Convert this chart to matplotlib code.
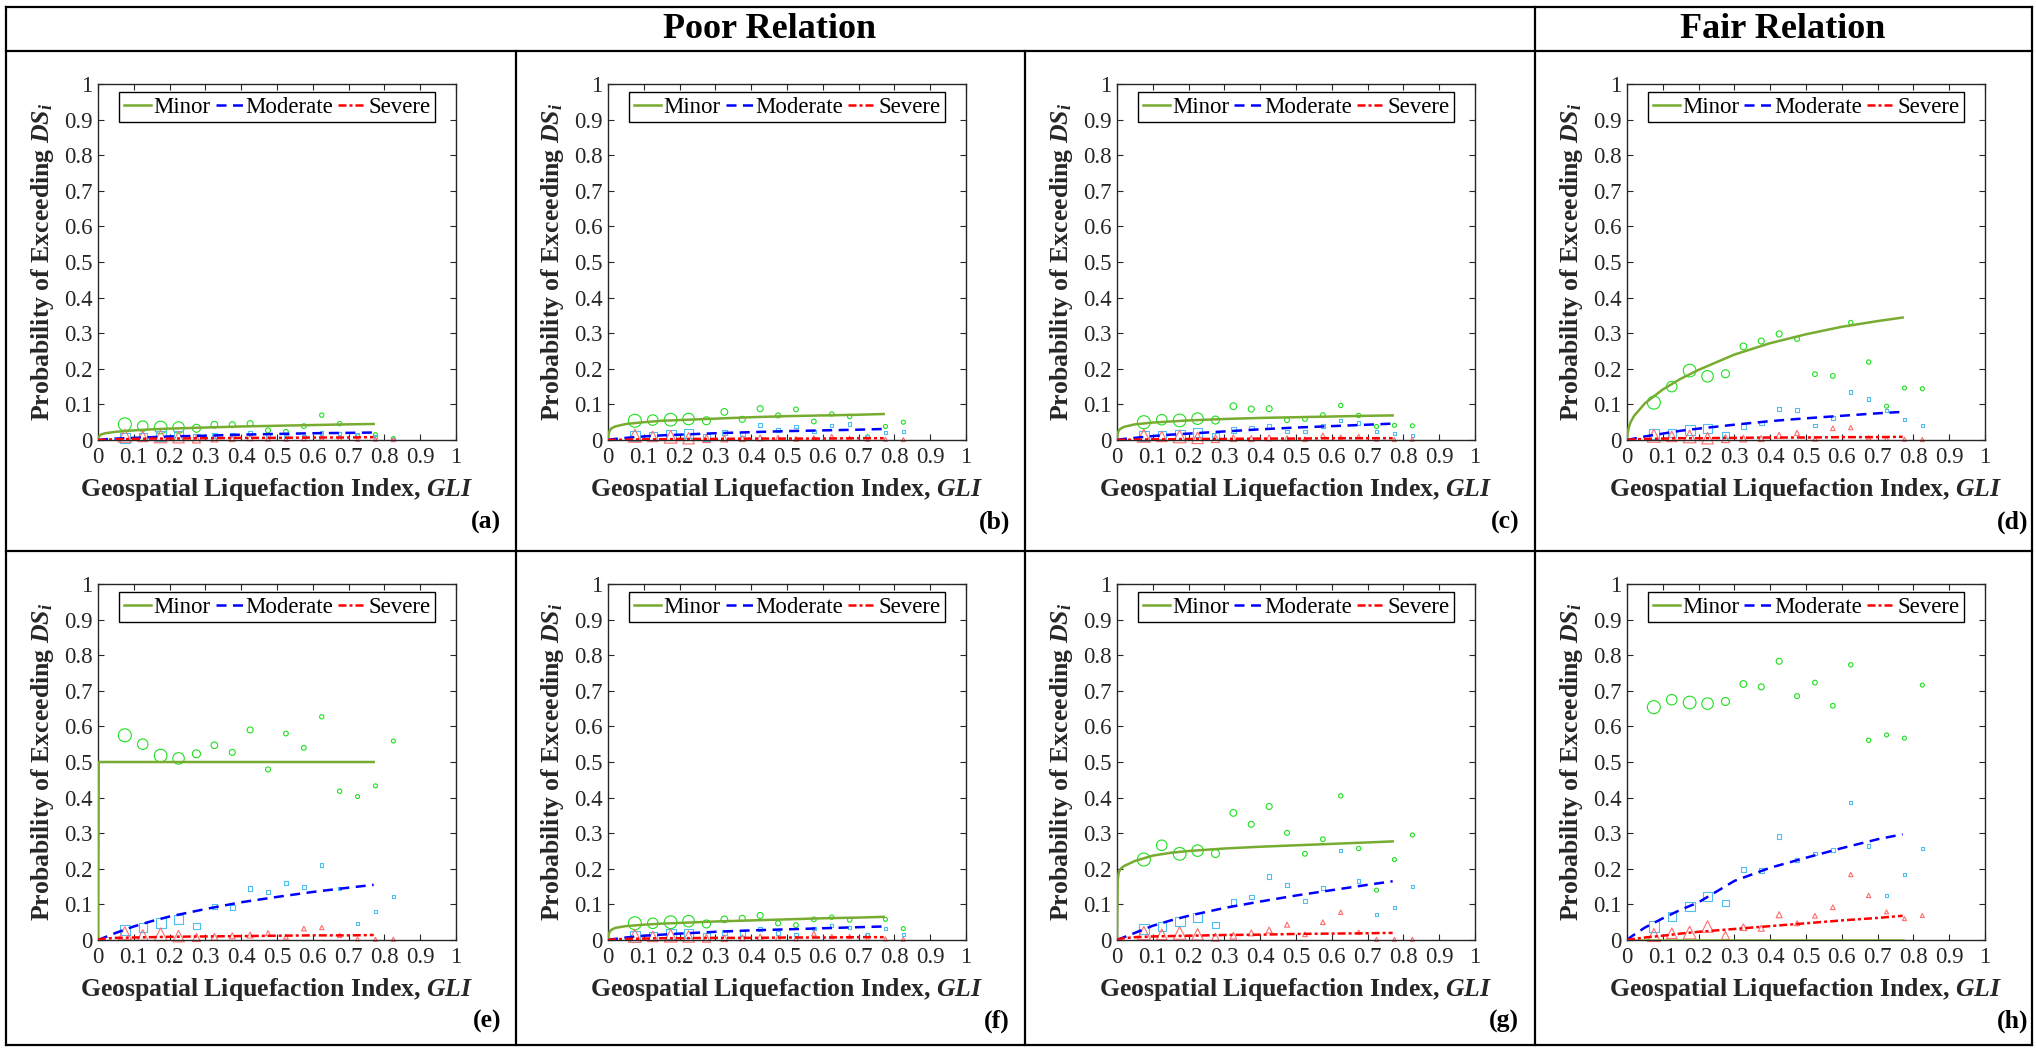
import matplotlib
matplotlib.use("Agg")
import matplotlib.pyplot as plt
from matplotlib.lines import Line2D

plt.rcParams.update({
    "font.family": ["Liberation Serif", "DejaVu Serif"],
    "mathtext.fontset": "custom",
    "mathtext.rm": "Liberation Serif:bold",
    "mathtext.it": "Liberation Serif:italic:bold",
    "mathtext.bf": "Liberation Serif:bold",
})

# ---------------- data ----------------
panel_letters = ["(a)", "(b)", "(c)", "(d)", "(e)", "(f)", "(g)", "(h)"]
group_titles = ["Poor Relation", "Fair Relation"]
legend_labels = ["Minor", "Moderate", "Severe"]
tick_values = [0, 0.1, 0.2, 0.3, 0.4, 0.5, 0.6, 0.7, 0.8, 0.9, 1]
tick_labels = ["0", "0.1", "0.2", "0.3", "0.4", "0.5", "0.6", "0.7", "0.8", "0.9", "1"]

gli_bins = [0.075, 0.125, 0.175, 0.225, 0.275, 0.325, 0.375, 0.425,
            0.475, 0.525, 0.575, 0.625, 0.675, 0.725, 0.775, 0.825]
# relative number of observations per bin (drives marker size)
bin_weight = [13, 10.5, 12.7, 11.5, 8, 6.7, 6, 6, 5, 4.7, 4.7, 4.3, 4.3, 4, 4, 4]

minor_obs = [
    [0.044, 0.039, 0.035, 0.035, 0.033, 0.043, 0.043, 0.046, 0.027, 0.023, 0.039, 0.070, 0.046, 0.012, 0.015, 0.004],
    [0.054, 0.056, 0.057, 0.059, 0.054, 0.079, 0.058, 0.088, 0.069, 0.086, 0.052, 0.073, 0.066, 0.009, 0.038, 0.050],
    [0.050, 0.057, 0.055, 0.060, 0.056, 0.095, 0.087, 0.088, 0.056, 0.059, 0.070, 0.097, 0.069, 0.038, 0.041, 0.040],
    [0.105, 0.150, 0.195, 0.179, 0.186, 0.263, 0.278, 0.298, 0.284, 0.185, 0.180, 0.330, 0.219, 0.095, 0.146, 0.144],
    [0.575, 0.550, 0.518, 0.510, 0.523, 0.547, 0.527, 0.590, 0.479, 0.580, 0.540, 0.627, 0.418, 0.403, 0.433, 0.559],
    [0.047, 0.047, 0.050, 0.053, 0.045, 0.058, 0.061, 0.069, 0.047, 0.042, 0.058, 0.064, 0.056, 0.013, 0.058, 0.032],
    [0.226, 0.266, 0.242, 0.251, 0.243, 0.357, 0.325, 0.375, 0.301, 0.242, 0.283, 0.405, 0.257, 0.140, 0.226, 0.295],
    [0.654, 0.675, 0.667, 0.664, 0.670, 0.719, 0.711, 0.783, 0.685, 0.723, 0.658, 0.773, 0.561, 0.576, 0.567, 0.716],
]
moderate_obs = [
    [0.005, 0.008, 0.010, 0.012, 0.008, 0.012, 0.014, 0.020, 0.012, 0.010, 0.010, 0.020, 0.018, 0.015, 0.010, 0.002],
    [0.012, 0.012, 0.013, 0.017, 0.007, 0.022, 0.017, 0.042, 0.028, 0.038, 0.024, 0.040, 0.045, 0.010, 0.020, 0.024],
    [0.012, 0.013, 0.015, 0.020, 0.012, 0.028, 0.034, 0.038, 0.024, 0.024, 0.040, 0.054, 0.048, 0.023, 0.018, 0.012],
    [0.016, 0.019, 0.029, 0.033, 0.014, 0.038, 0.048, 0.087, 0.084, 0.041, 0.062, 0.135, 0.115, 0.084, 0.057, 0.041],
    [0.028, 0.035, 0.049, 0.057, 0.040, 0.094, 0.092, 0.144, 0.134, 0.161, 0.149, 0.211, 0.145, 0.046, 0.079, 0.122],
    [0.010, 0.012, 0.017, 0.019, 0.010, 0.020, 0.018, 0.031, 0.020, 0.015, 0.032, 0.040, 0.036, 0.014, 0.032, 0.015],
    [0.030, 0.038, 0.052, 0.063, 0.042, 0.107, 0.121, 0.179, 0.155, 0.110, 0.147, 0.252, 0.166, 0.071, 0.092, 0.150],
    [0.038, 0.066, 0.094, 0.121, 0.104, 0.197, 0.195, 0.291, 0.225, 0.243, 0.252, 0.387, 0.264, 0.126, 0.183, 0.258],
]
severe_obs = [
    [0.012, 0.010, 0.010, 0.008, 0.003, 0.004, 0.004, 0.006, 0.004, 0.003, 0.004, 0.006, 0.005, 0.002, 0.002, 0.001],
    [0.012, 0.010, 0.009, 0.005, 0.004, 0.004, 0.004, 0.006, 0.006, 0.003, 0.006, 0.010, 0.005, 0.002, 0.002, 0.001],
    [0.012, 0.010, 0.010, 0.006, 0.004, 0.005, 0.004, 0.006, 0.005, 0.002, 0.013, 0.008, 0.010, 0.002, 0.001, 0.002],
    [0.012, 0.010, 0.010, 0.005, 0.004, 0.004, 0.004, 0.013, 0.020, 0.003, 0.033, 0.035, 0.006, 0.004, 0.002, 0.001],
    [0.019, 0.014, 0.016, 0.011, 0.007, 0.009, 0.012, 0.014, 0.019, 0.009, 0.032, 0.035, 0.013, 0.003, 0.002, 0.002],
    [0.012, 0.010, 0.012, 0.010, 0.005, 0.005, 0.006, 0.008, 0.006, 0.004, 0.018, 0.010, 0.010, 0.004, 0.003, 0.002],
    [0.020, 0.016, 0.020, 0.016, 0.008, 0.012, 0.020, 0.028, 0.043, 0.016, 0.050, 0.078, 0.022, 0.002, 0.002, 0.002],
    [0.014, 0.019, 0.021, 0.038, 0.013, 0.036, 0.033, 0.071, 0.047, 0.068, 0.092, 0.184, 0.125, 0.079, 0.060, 0.069],
]

fit_x = [0, 0.002, 0.005, 0.01, 0.02, 0.05, 0.1, 0.15, 0.2, 0.3, 0.4, 0.5, 0.6, 0.7, 0.77]
minor_fit = [
    [0, 0.008, 0.013, 0.016, 0.019, 0.023, 0.027, 0.030, 0.032, 0.035, 0.038, 0.040, 0.042, 0.044, 0.045],
    [0, 0.018, 0.027, 0.033, 0.038, 0.045, 0.050, 0.054, 0.056, 0.060, 0.064, 0.067, 0.069, 0.071, 0.073],
    [0, 0.018, 0.027, 0.032, 0.037, 0.044, 0.049, 0.052, 0.055, 0.059, 0.062, 0.064, 0.066, 0.068, 0.069],
    [0, 0.020, 0.035, 0.050, 0.068, 0.103, 0.142, 0.172, 0.197, 0.240, 0.272, 0.297, 0.318, 0.334, 0.344],
    [0, 0.500, 0.500, 0.500, 0.500, 0.500, 0.500, 0.500, 0.500, 0.500, 0.500, 0.500, 0.500, 0.500, 0.500],
    [0, 0.016, 0.024, 0.029, 0.034, 0.039, 0.043, 0.046, 0.048, 0.052, 0.055, 0.058, 0.061, 0.063, 0.065],
    [0, 0.170, 0.190, 0.200, 0.208, 0.222, 0.237, 0.245, 0.250, 0.257, 0.262, 0.266, 0.270, 0.274, 0.277],
    [0, 0, 0, 0, 0, 0, 0, 0, 0, 0, 0, 0, 0, 0, 0],
]
moderate_fit = [
    [0, 0, 0.0003, 0.001, 0.002, 0.004, 0.006, 0.008, 0.010, 0.012, 0.015, 0.017, 0.019, 0.020, 0.021],
    [0, 0, 0.001, 0.002, 0.003, 0.006, 0.010, 0.013, 0.015, 0.019, 0.022, 0.025, 0.027, 0.029, 0.031],
    [0, 0, 0.001, 0.002, 0.003, 0.006, 0.011, 0.015, 0.018, 0.024, 0.030, 0.035, 0.039, 0.043, 0.046],
    [0, 0, 0.001, 0.002, 0.004, 0.010, 0.018, 0.026, 0.032, 0.043, 0.053, 0.061, 0.068, 0.075, 0.079],
    [0, 0.001, 0.002, 0.004, 0.008, 0.020, 0.038, 0.053, 0.066, 0.087, 0.106, 0.121, 0.135, 0.147, 0.155],
    [0, 0, 0.001, 0.002, 0.003, 0.007, 0.012, 0.015, 0.018, 0.023, 0.027, 0.030, 0.033, 0.036, 0.038],
    [0, 0.001, 0.002, 0.004, 0.008, 0.020, 0.040, 0.055, 0.068, 0.090, 0.108, 0.125, 0.140, 0.155, 0.165],
    [0, 0.002, 0.004, 0.008, 0.015, 0.035, 0.061, 0.085, 0.106, 0.166, 0.203, 0.231, 0.258, 0.283, 0.297],
]
severe_fit = [
    [0, 0, 0, 0.0005, 0.001, 0.002, 0.003, 0.004, 0.004, 0.005, 0.006, 0.006, 0.007, 0.007, 0.008],
    [0, 0, 0, 0.0003, 0.0005, 0.001, 0.002, 0.002, 0.003, 0.003, 0.004, 0.004, 0.004, 0.005, 0.005],
    [0, 0, 0, 0.0003, 0.0006, 0.001, 0.002, 0.002, 0.003, 0.003, 0.004, 0.004, 0.005, 0.005, 0.005],
    [0, 0, 0.0005, 0.001, 0.002, 0.003, 0.004, 0.005, 0.005, 0.006, 0.007, 0.007, 0.008, 0.008, 0.009],
    [0, 0.001, 0.002, 0.003, 0.004, 0.006, 0.007, 0.008, 0.009, 0.010, 0.011, 0.012, 0.013, 0.013, 0.014],
    [0, 0, 0.0005, 0.001, 0.002, 0.003, 0.004, 0.005, 0.005, 0.006, 0.006, 0.007, 0.007, 0.008, 0.008],
    [0, 0.001, 0.002, 0.004, 0.005, 0.008, 0.010, 0.011, 0.012, 0.014, 0.015, 0.017, 0.018, 0.019, 0.020],
    [0, 0, 0.001, 0.002, 0.003, 0.007, 0.012, 0.018, 0.023, 0.031, 0.039, 0.047, 0.055, 0.062, 0.068],
]

# ---------------- layout / style ----------------
W, H = 2036, 1048
DPI = 100
PX2PT = 72.0 / DPI

col_left = [98, 608, 1117, 1627]
row_top = [84, 584]
AW, AH = 358, 356
letter_x = [501, 1010, 1519, 2028]
letter_y = [522, 1021]

c_minor_line = "#77AC30"
c_mod_line = "#0000FF"
c_sev_line = "#FF0000"
c_minor_pt = "#1EE01E"
c_mod_pt = "#4DBEEE"
c_sev_pt = "#FF6E6E"
axis_col = "#262626"

fig = plt.figure(figsize=(W / DPI, H / DPI), dpi=DPI)
fig.patch.set_facecolor("white")


def fx(x):
    return x / W


def fy(y):
    return 1 - y / H


# frame / grid lines of the figure table
border_lw = 1.6
table_lines = [
    ((6, 2032), (7, 7)),
    ((6, 2032), (51, 51)),
    ((6, 2032), (551, 551)),
    ((6, 2032), (1045, 1045)),
    ((6, 6), (7, 1045)),
    ((2032, 2032), (7, 1045)),
    ((1535, 1535), (7, 1045)),
    ((516, 516), (51, 1045)),
    ((1025, 1025), (51, 1045)),
]
for xs, ys in table_lines:
    fig.add_artist(Line2D([fx(xs[0]), fx(xs[1])], [fy(ys[0]), fy(ys[1])],
                          transform=fig.transFigure, color="black", lw=border_lw))

fig.text(fx(770), fy(30), group_titles[0], ha="center", va="center",
         fontsize=26, fontweight="bold", color="black")
fig.text(fx(1783), fy(30), group_titles[1], ha="center", va="center",
         fontsize=26, fontweight="bold", color="black")

sizes_o = [(w * PX2PT) ** 2 for w in bin_weight]
sizes_s = [(0.78 * w * PX2PT) ** 2 for w in bin_weight]
sizes_t = [(1.0 * w * PX2PT) ** 2 for w in bin_weight]

for i in range(8):
    r, c = divmod(i, 4)
    ax = fig.add_axes([fx(col_left[c]), fy(row_top[r] + AH), AW / W, AH / H])

    ax.scatter(gli_bins, minor_obs[i], s=sizes_o, marker="o", facecolors="none",
               edgecolors=c_minor_pt, linewidths=0.8, clip_on=False, zorder=2)
    ax.scatter(gli_bins, moderate_obs[i], s=sizes_s, marker="s", facecolors="none",
               edgecolors=c_mod_pt, linewidths=0.8, clip_on=False, zorder=2)
    ax.scatter(gli_bins, severe_obs[i], s=sizes_t, marker="^", facecolors="none",
               edgecolors=c_sev_pt, linewidths=0.8, clip_on=False, zorder=2)

    l1, = ax.plot(fit_x, minor_fit[i], color=c_minor_line, lw=1.8, zorder=3)
    l2, = ax.plot(fit_x, moderate_fit[i], color=c_mod_line, lw=1.8,
                  dashes=(4.0, 2.6), zorder=3)
    l3, = ax.plot(fit_x, severe_fit[i], color=c_sev_line, lw=1.8,
                  dashes=(3.2, 1.2, 1.2, 1.2), zorder=3)

    ax.set_xlim(0, 1)
    ax.set_ylim(0, 1)
    ax.set_xticks(tick_values)
    ax.set_xticklabels(tick_labels)
    ax.set_yticks(tick_values)
    ax.set_yticklabels(tick_labels)
    ax.tick_params(direction="in", top=True, right=True, length=4, width=0.8,
                   labelsize=16.5, colors=axis_col, labelcolor=axis_col)
    ax.tick_params(axis="x", pad=5)
    ax.tick_params(axis="y", pad=4)
    for sp in ax.spines.values():
        sp.set_color(axis_col)
        sp.set_linewidth(1.0)

    ax.set_xlabel("Geospatial Liquefaction Index, $GLI$", fontsize=18.5,
                  fontweight="bold", color=axis_col)
    ax.set_ylabel("Probability of Exceeding $DS_i$", fontsize=18.5,
                  fontweight="bold", color=axis_col)
    ax.xaxis.set_label_coords(0.5, -36 / AH)
    ax.yaxis.set_label_coords(-42 / AW, 0.5)

    leg = ax.legend([l1, l2, l3], legend_labels, ncol=3, loc="upper center",
                    bbox_to_anchor=(0.5, 1 - 8 / AH), borderaxespad=0,
                    fontsize=16.5, handlelength=1.2, handletextpad=0.12,
                    columnspacing=0.2, borderpad=0.2, fancybox=False,
                    framealpha=1, edgecolor="black")
    leg.get_frame().set_linewidth(1.0)

    fig.text(fx(letter_x[c]), fy(letter_y[r]), panel_letters[i], ha="right",
             va="center", fontsize=18.5, fontweight="bold", color="black")

fig.savefig("out.png", dpi=DPI, facecolor="white")
